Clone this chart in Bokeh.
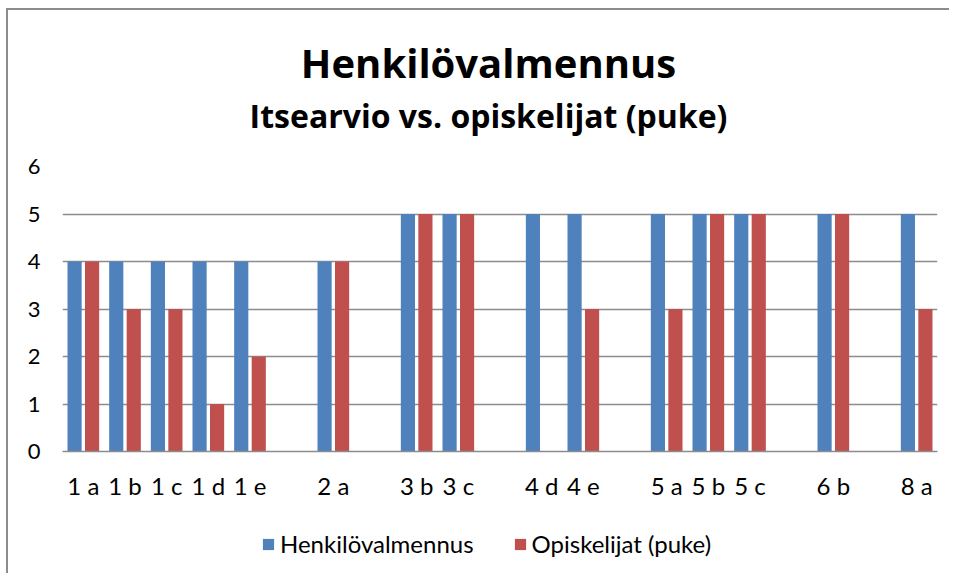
import pandas as pd
from bokeh.plotting import figure
from bokeh.layouts import column
from bokeh.models import (ColumnDataSource, FixedTicker, Label, Legend, LegendItem, Range1d)
from bokeh.transform import dodge
from bokeh.embed import file_html
from bokeh.resources import INLINE

# ---- data ----
categories = ["1 a", "1 b", "1 c", "1 d", "1 e", "", "2 a", "", "3 b", "3 c", "",
              "4 d", "4 e", "", "5 a", "5 b", "5 c", "", "6 b", "", "8 a"]
henkilovalmennus = [4, 4, 4, 4, 4, None, 4, None, 5, 5, None,
                    5, 5, None, 5, 5, 5, None, 5, None, 5]
opiskelijat = [4, 3, 3, 1, 2, None, 4, None, 5, 5, None,
               None, 3, None, 3, 5, 5, None, 5, None, 3]
y_ticks = [0, 1, 2, 3, 4, 5, 6]
series_names = ["Henkilövalmennus", "Opiskelijat (puke)"]
title_text = "Henkilövalmennus"
subtitle_text = "Itsearvio vs. opiskelijat (puke)"

df = pd.DataFrame({
    "x": list(range(len(categories))),
    "cat": categories,
    "h": pd.array(henkilovalmennus, dtype="Float64").astype(float),
    "o": pd.array(opiskelijat, dtype="Float64").astype(float),
})
src = ColumnDataSource(df)

FONT = "Lato"
TFONT = "Open Sans"
BLUE = "#4F81BD"
RED = "#C0504D"
GRID = "#8c8c8c"
BORDER = "2px solid #8c8c8c"
W = 943


def strip(height, styles):
    f = figure(width=W, height=height, output_backend="svg", toolbar_location=None,
               x_range=Range1d(-0.5, len(categories) - 0.5), y_range=Range1d(0, 6),
               x_axis_location=None, y_axis_location=None, title=None,
               min_border=0, min_border_left=0, min_border_right=0,
               min_border_top=0, min_border_bottom=0)
    f.grid.visible = False
    f.outline_line_color = None
    f.styles = styles
    return f


# ---- title strip ----
tf = strip(140, {"border-left": BORDER, "border-top": BORDER,
                 "margin-left": "6px", "margin-top": "8px"})
tf.add_layout(Label(x=426, y=88, x_units="screen", y_units="screen", text=title_text,
                    text_align="center", text_baseline="alphabetic", text_font=TFONT,
                    text_font_size="40px", text_font_style="bold", text_color="black"))
tf.add_layout(Label(x=426, y=35, x_units="screen", y_units="screen", text=subtitle_text,
                    text_align="center", text_baseline="alphabetic", text_font=TFONT,
                    text_font_size="32px", text_font_style="bold", text_color="black"))

# ---- main chart ----
p = figure(width=W, height=365, output_backend="svg", toolbar_location=None,
           x_range=Range1d(-0.5, len(categories) - 0.5), y_range=Range1d(0, 6),
           min_border_left=54, min_border_right=14, min_border_top=18,
           min_border_bottom=62, title=None)
p.styles = {"border-left": BORDER, "margin-left": "6px"}
p.outline_line_color = None
p.background_fill_color = "white"
p.border_fill_color = "white"

r1 = p.vbar(x=dodge("x", -0.21, range=p.x_range), top="h", width=0.34, source=src,
            fill_color=BLUE, line_color=None)
r2 = p.vbar(x=dodge("x", 0.21, range=p.x_range), top="o", width=0.34, source=src,
            fill_color=RED, line_color=None)

labeled = [i for i, c in enumerate(categories) if c]
p.xaxis.ticker = FixedTicker(ticks=labeled)
p.xaxis.major_label_overrides = {i: categories[i] for i in labeled}
p.xaxis.major_tick_line_color = None
p.xaxis.minor_tick_line_color = None
p.xaxis.axis_line_color = GRID
p.xaxis.axis_line_width = 1.5
p.xaxis.major_label_text_font = FONT
p.xaxis.major_label_text_font_size = "24px"
p.xaxis.major_label_text_color = "black"
p.xaxis.major_label_standoff = 13

p.yaxis.ticker = FixedTicker(ticks=y_ticks)
p.yaxis.major_tick_line_color = None
p.yaxis.minor_tick_line_color = None
p.yaxis.axis_line_color = None
p.yaxis.major_label_text_font = FONT
p.yaxis.major_label_text_font_size = "22px"
p.yaxis.major_label_text_color = "black"
p.yaxis.major_label_standoff = 16

p.xgrid.grid_line_color = None
p.ygrid.ticker = FixedTicker(ticks=y_ticks)
p.ygrid.grid_line_color = GRID
p.ygrid.grid_line_width = 1.5

# ---- legend strip ----
lf = strip(60, {"border-left": BORDER, "margin-left": "6px"})
lr1 = lf.vbar(x="x", top="h", width=0.34, source=src, fill_color=BLUE, line_color=None)
lr2 = lf.vbar(x="x", top="o", width=0.34, source=src, fill_color=RED, line_color=None)
lr1.visible = False
lr2.visible = False
legend = Legend(items=[LegendItem(label=series_names[0], renderers=[lr1]),
                       LegendItem(label=series_names[1], renderers=[lr2])],
                orientation="horizontal", location=(199, 15),
                label_text_font=FONT, label_text_font_size="24px",
                label_text_color="black", inactive_fill_alpha=0,
                glyph_width=14, glyph_height=14, label_standoff=5, spacing=39,
                label_height=20, padding=0, margin=0,
                border_line_color=None, background_fill_alpha=0)
lf.add_layout(legend)

layout = column(tf, p, lf, spacing=0)
open("out.html", "w").write(file_html(layout, INLINE))
